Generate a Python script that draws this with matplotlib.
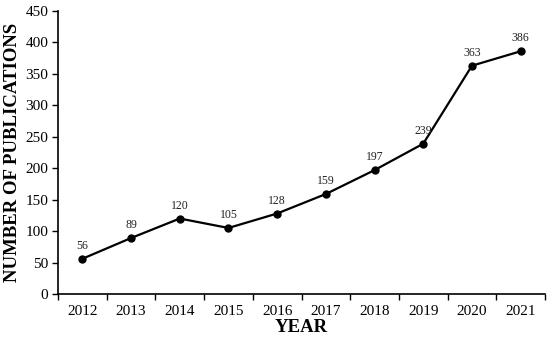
import matplotlib
matplotlib.use("Agg")
import matplotlib.pyplot as plt
import numpy as np

years = ["2012", "2013", "2014", "2015", "2016", "2017", "2018", "2019", "2020", "2021"]
publications = [56, 89, 120, 105, 128, 159, 197, 239, 363, 386]
y_ticks = [0, 50, 100, 150, 200, 250, 300, 350, 400, 450]

plt.rcParams['font.family'] = ['Liberation Serif', 'DejaVu Serif']

fig = plt.figure(figsize=(5.51, 3.39), dpi=100)
ax = fig.add_axes([58/551, 1 - 294/339, (545-58)/551, (294-11)/339])

x = np.arange(len(years))
ax.plot(x, publications, color='black', linewidth=1.6, marker='o', markersize=5)
for xi, v in zip(x, publications):
    ax.annotate(str(v), (xi, v), textcoords='offset points', xytext=(0, 5),
                ha='center', va='bottom', fontsize=8.5, color='#222222')

ax.set_xlim(-0.5, len(years) - 0.5)
ax.set_ylim(0, 450)
ax.set_yticks(y_ticks)
ax.set_xticks(x)
ax.set_xticklabels(years)
ax.set_xticks(np.arange(-0.5, len(years)), minor=True)
ax.tick_params(axis='x', which='major', length=0, pad=8, labelsize=11)
ax.tick_params(axis='x', which='minor', length=4, width=1, direction='out')
ax.tick_params(axis='y', length=4, width=1, direction='out', labelsize=11, pad=3)

for s in ['top', 'right']:
    ax.spines[s].set_visible(False)
for s in ['left', 'bottom']:
    ax.spines[s].set_linewidth(1.2)

ax.set_xlabel('YEAR', fontsize=13.5, fontweight='bold', labelpad=1)
ax.set_ylabel('NUMBER OF PUBLICATIONS', fontsize=13.5, fontweight='bold', labelpad=3)

fig.savefig('out.png', dpi=100)
